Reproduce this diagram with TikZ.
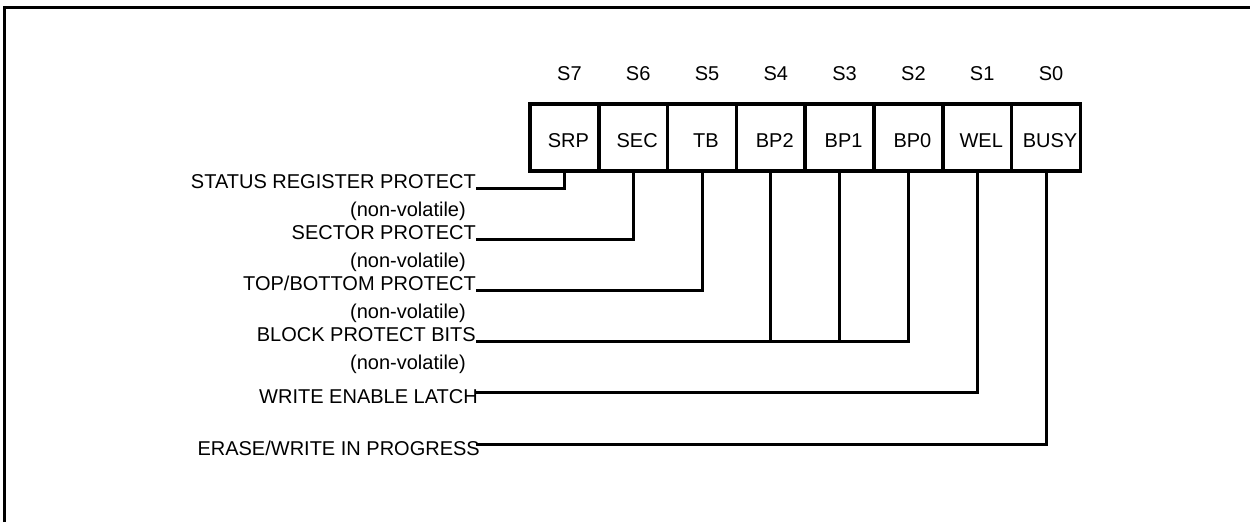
\documentclass[tikz,border=0pt]{standalone}
\usepackage{fontspec}
\setmainfont{Liberation Sans}
\begin{document}
\begin{tikzpicture}[x=1pt,y=-1pt,
  cell/.style={draw, line width=3.5pt, minimum width=68.8pt, minimum height=67.3pt, inner sep=0pt, outer sep=0pt},
  txt/.style={font=\fontsize{20}{24}\selectfont, inner sep=0pt},
  lbl/.style={txt, anchor=base east},
  conn/.style={line width=3pt},
  frame/.style={line width=3pt}]
\useasboundingbox (0,0) rectangle (1250,522);
\draw[frame] (4,522) -- (4,7) -- (1250,7);
% register cells
\foreach \i/\t in {7/SRP,6/SEC,5/TB,4/BP2,3/BP1,2/BP0,1/WEL,0/BUSY}{
  \pgfmathsetmacro\cx{564.4+(7-\i)*68.8}
  \node[cell] (b\i) at (\cx,137.4) {};
  \node[txt, anchor=base] (t\i) at (\cx+4,147) {\t};
  \node[txt, anchor=base] (s\i) at (\cx+5,80.5) {S\i};
}
% line ends
\coordinate (e7) at (476,188);
\coordinate (e6) at (476,239);
\coordinate (e5) at (476,290);
\coordinate (e4) at (476,341.5);
\coordinate (e1) at (476,392.5);
\coordinate (e0) at (476,444);
% labels
\node[lbl] (l7) at (e7) {STATUS REGISTER PROTECT};
\node[lbl] (n7) at (466,216) {(non-volatile)};
\node[lbl] (l6) at (e6) {SECTOR PROTECT};
\node[lbl] (n6) at (466,267) {(non-volatile)};
\node[lbl] (l5) at (e5) {TOP/BOTTOM PROTECT};
\node[lbl] (n5) at (466,318) {(non-volatile)};
\node[lbl] (l4) at (e4) {BLOCK PROTECT BITS};
\node[lbl] (n4) at (466,369.5) {(non-volatile)};
\node[lbl] (l1) at (478,403) {WRITE ENABLE LATCH};
\node[lbl] (l0) at (480,455.5) {ERASE/WRITE IN PROGRESS};
% connectors
\draw[conn] (b7.south) |- (e7);
\draw[conn] (b6.south) |- (e6);
\draw[conn] (b5.south) |- (e5);
\draw[conn] (b2.south) |- (e4);
\draw[conn] (b4.south) -- (b4.south |- e4);
\draw[conn] (b3.south) -- (b3.south |- e4);
\draw[conn] (b1.south) |- (e1);
\draw[conn] (b0.south) |- (e0);
\end{tikzpicture}
\end{document}
